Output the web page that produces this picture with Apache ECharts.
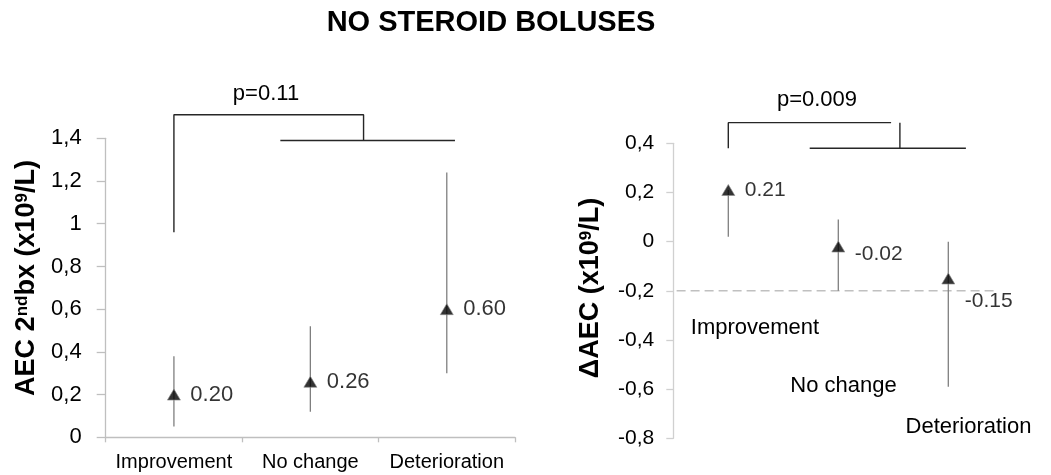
<!DOCTYPE html>
<html>
<head>
<meta charset="utf-8">
<style>
  html, body { margin: 0; padding: 0; background: #fff; }
  #chart { width: 1051px; height: 475px; }
</style>
<script src="https://cdn.jsdelivr.net/npm/echarts@6/dist/echarts.min.js"></script>
</head>
<body>
<div id="chart"></div>
<script>
// Groups
const categories = ['Improvement', 'No change', 'Deterioration'];

// AEC at 2nd biopsy (x10^9/L): point estimate and bar extent
const aecMean = [0.20, 0.26, 0.60];
const aecLow  = [0.05, 0.12, 0.30];
const aecHigh = [0.38, 0.52, 1.24];

// Change in AEC (x10^9/L): point estimate and bar extent
const deltaMean = [0.21, -0.02, -0.15];
const deltaLow  = [0.02, -0.20, -0.59];
const deltaHigh = [0.21, 0.09, 0.00];

// Significance brackets, in (group index, value) units
const aecBracket      = [[0, 0.96], [0, 1.51], [1.39, 1.51], [1.39, 1.39]];
const aecBracketBase  = [[0.78, 1.39], [2.06, 1.39]];
const deltaBracket     = [[0, 0.38], [0, 0.484], [1.48, 0.484]];
const deltaBracketStem = [[1.56, 0.484], [1.56, 0.38]];
const deltaBracketBase = [[0.74, 0.38], [2.16, 0.38]];
const deltaRefLine     = [[-0.47, -0.2], [2.42, -0.2]];

const pLabels = ['p=0.11', 'p=0.009'];

const FONT = '"Liberation Sans", Arial, sans-serif';
const axisGray = '#bfbfbf';
const barGray = '#7f7f7f';

const commaFmt = v => String(+v.toFixed(1)).replace('.', ',');

function errorBars(low, high, xIdx, yIdx) {
  return {
    type: 'custom',
    xAxisIndex: xIdx,
    yAxisIndex: yIdx,
    silent: true,
    z: 2,
    data: categories.map((c, i) => [i, low[i], high[i]]),
    renderItem: function (params, api) {
      const a = api.coord([api.value(0), api.value(1)]);
      const b = api.coord([api.value(0), api.value(2)]);
      return {
        type: 'line',
        shape: { x1: a[0], y1: a[1], x2: b[0], y2: b[1] },
        style: { stroke: barGray, lineWidth: 1.3 }
      };
    }
  };
}

function bracket(points, xIdx, yIdx) {
  return {
    type: 'line',
    xAxisIndex: xIdx,
    yAxisIndex: yIdx,
    data: points,
    clip: false,
    silent: true,
    symbol: 'none',
    lineStyle: { color: '#262626', width: 1.4 },
    z: 3
  };
}

function points(values, xIdx, yIdx, fontSize, offsets) {
  return {
    type: 'scatter',
    xAxisIndex: xIdx,
    yAxisIndex: yIdx,
    symbol: 'triangle',
    symbolSize: [13, 11],
    itemStyle: { color: '#000', borderColor: '#8c8c8c', borderWidth: 0.8 },
    z: 4,
    data: values.map((v, i) => ({
      value: [i, v],
      label: { offset: offsets[i] }
    })),
    label: {
      show: true,
      position: 'right',
      distance: 9.5,
      fontFamily: FONT,
      fontSize: fontSize,
      color: '#000',
      formatter: p => p.value[1].toFixed(2)
    }
  };
}

const nameRich = {
  a: { fontFamily: FONT, fontSize: 27, fontWeight: 'bold', color: '#000' },
  s: { fontFamily: FONT, fontSize: 17, fontWeight: 'bold', color: '#000', verticalAlign: 'top' }
};

function plainText(text, x, y, size, weight) {
  return {
    type: 'text', x: x, y: y,
    style: { text: text, textAlign: 'center', textVerticalAlign: 'middle',
             fontFamily: FONT, fontSize: size, fontWeight: weight || 'normal', fill: '#000' }
  };
}

const option = {
  animation: false,
  backgroundColor: '#fff',
  grid: [
    { left: 105.7, top: 138.3, width: 409.3, height: 299 },
    { left: 673.3, top: 143.3, width: 330, height: 295 }
  ],
  xAxis: [
    {
      type: 'category', gridIndex: 0, data: categories, boundaryGap: true,
      axisLine: { onZero: false, lineStyle: { color: axisGray, width: 1.3 } },
      axisTick: { show: true, length: 5, lineStyle: { color: axisGray, width: 1.3 } },
      axisLabel: { interval: 0, fontFamily: FONT, fontSize: 20, color: '#000', margin: 15 },
      splitLine: { show: false }
    },
    { type: 'value', gridIndex: 0, min: -0.5, max: 2.5, show: false },
    { type: 'category', gridIndex: 1, data: categories, boundaryGap: true, show: false },
    { type: 'value', gridIndex: 1, min: -0.5, max: 2.5, show: false }
  ],
  yAxis: [
    {
      type: 'value', gridIndex: 0, min: 0, max: 1.4, interval: 0.2,
      axisLine: { show: true, onZero: false, lineStyle: { color: axisGray, width: 1.3 } },
      axisTick: { show: true, length: 9, lineStyle: { color: axisGray, width: 1.3 } },
      axisLabel: { fontFamily: FONT, fontSize: 22, color: '#000', margin: 24, formatter: commaFmt },
      splitLine: { show: false }
    },
    {
      type: 'value', gridIndex: 1, min: -0.8, max: 0.4, interval: 0.2,
      axisLine: { show: true, onZero: false, lineStyle: { color: '#d0d0d0', width: 1.3 } },
      axisTick: { show: true, length: 7, lineStyle: { color: '#d0d0d0', width: 1.3 } },
      axisLabel: { fontFamily: FONT, fontSize: 21, color: '#000', margin: 19, formatter: commaFmt },
      splitLine: { show: false }
    }
  ],
  graphic: [
    plainText('NO STEROID BOLUSES', 491, 23, 29, 'bold'),
    plainText(pLabels[0], 266, 94, 22),
    plainText(pLabels[1], 817, 100, 22),
    {
      type: 'text', x: 27, y: 278, rotation: Math.PI / 2,
      style: { text: '{a|AEC 2}{s|nd}{a|bx (x10}{s|9}{a|/L)}', rich: nameRich,
               textAlign: 'center', textVerticalAlign: 'middle' }
    },
    {
      type: 'text', x: 591, y: 288, rotation: Math.PI / 2,
      style: { text: '{a|\u0394AEC (x10}{s|9}{a|/L)}', rich: nameRich,
               textAlign: 'center', textVerticalAlign: 'middle' }
    },
    plainText(categories[0], 755, 328, 22),
    plainText(categories[1], 843.5, 386, 22),
    plainText(categories[2], 968.5, 427, 22)
  ],
  series: [
    errorBars(aecLow, aecHigh, 0, 0),
    points(aecMean, 0, 0, 22, [[0, 0], [0, 0], [0, 0]]),
    bracket(aecBracket, 1, 0),
    bracket(aecBracketBase, 1, 0),

    {
      type: 'line', xAxisIndex: 3, yAxisIndex: 1, data: deltaRefLine,
      symbol: 'none', silent: true, z: 1,
      lineStyle: { color: '#c0c0c0', width: 1.5, type: [9, 5] }
    },
    errorBars(deltaLow, deltaHigh, 2, 1),
    points(deltaMean, 2, 1, 21, [[0, 0], [0, 8], [0, 23]]),
    bracket(deltaBracket, 3, 1),
    bracket(deltaBracketStem, 3, 1),
    bracket(deltaBracketBase, 3, 1)
  ]
};

const chart = echarts.init(document.getElementById('chart'), null, { renderer: 'canvas' });
chart.setOption(option);
</script>
</body>
</html>
